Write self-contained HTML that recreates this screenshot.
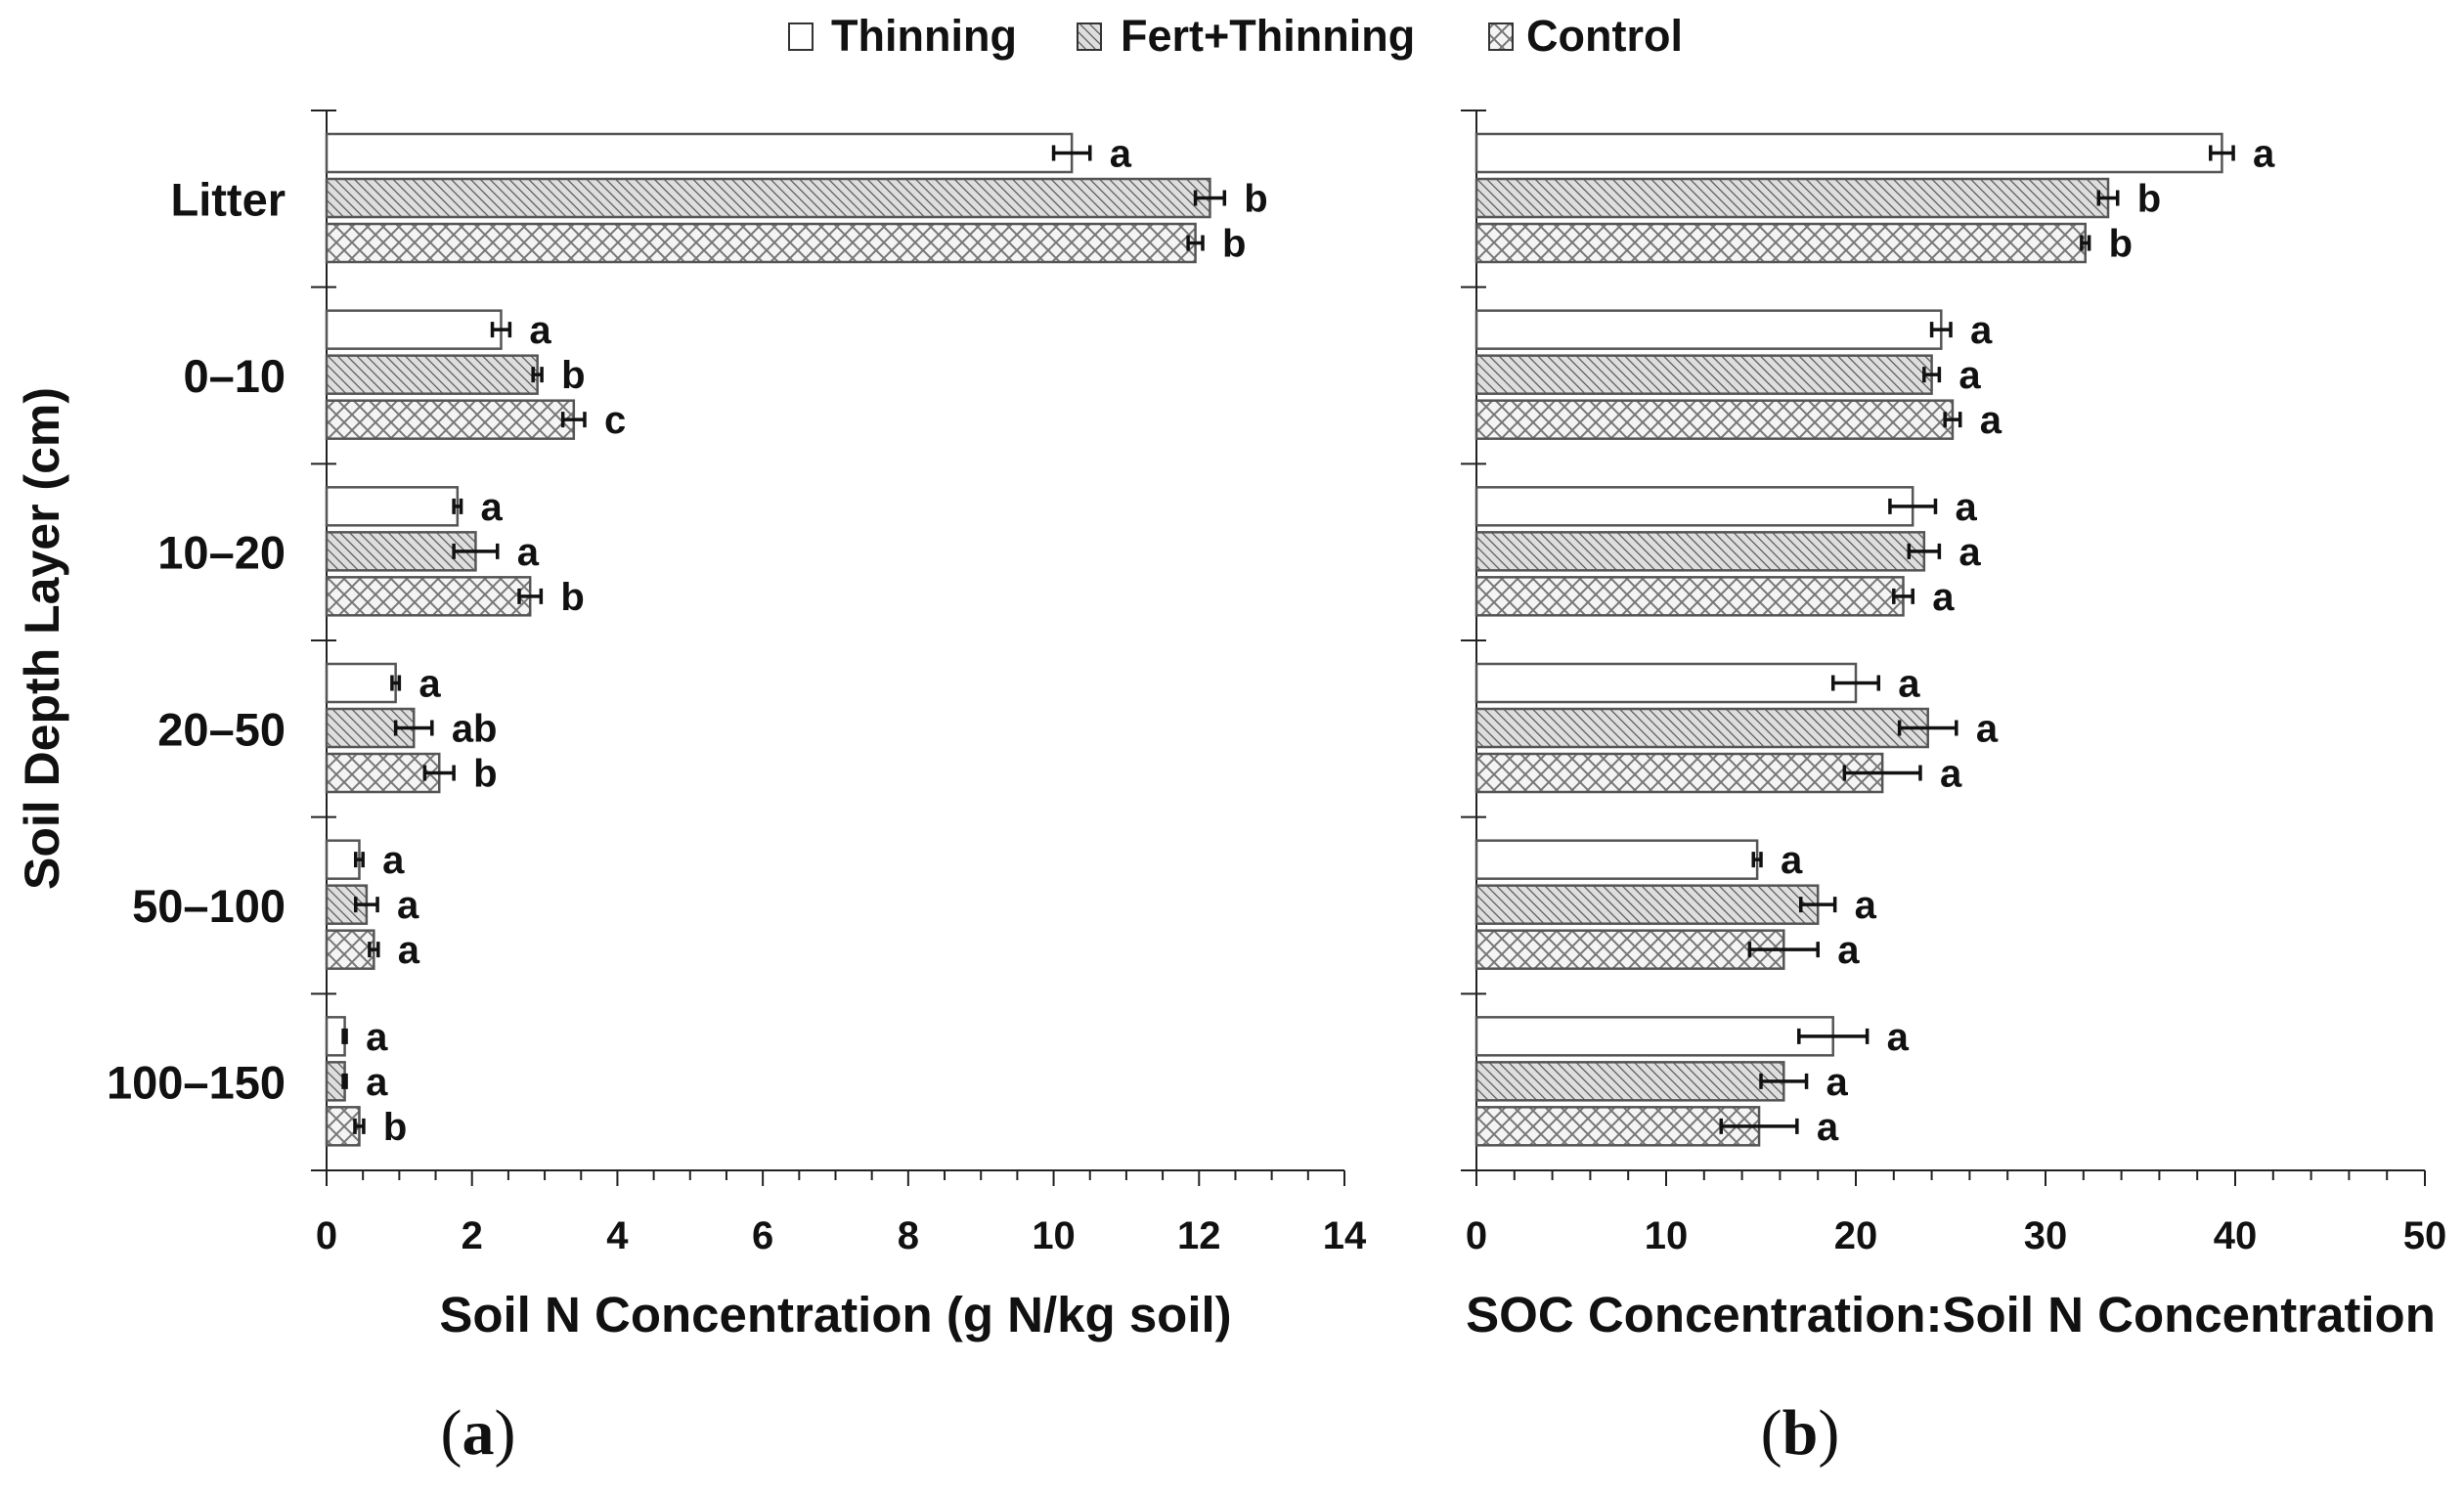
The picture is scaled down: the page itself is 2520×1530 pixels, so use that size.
<!DOCTYPE html>
<html><head><meta charset="utf-8"><style>
html,body{margin:0;padding:0;background:#fff;}
svg{display:block;font-family:"Liberation Sans",sans-serif;}
</style></head><body>
<svg id="chart" width="2520" height="1530" viewBox="0 0 2520 1530" xmlns="http://www.w3.org/2000/svg">
<defs>
<pattern id="diag" patternUnits="userSpaceOnUse" width="7" height="7" patternTransform="rotate(-45)">
<rect width="7" height="7" fill="#dedede"/><line x1="0" y1="0" x2="0" y2="7" stroke="#555" stroke-width="2.4"/></pattern>
<pattern id="cross" patternUnits="userSpaceOnUse" width="16" height="16">
<rect width="16" height="16" fill="#f4f4f4"/><path d="M0,0L16,16M16,0L0,16" stroke="#777" stroke-width="2"/></pattern>
</defs>
<g font-size="45" font-weight="bold" fill="#111">
<rect x="807" y="24" width="24" height="27" fill="#fff" stroke="#333" stroke-width="2"/>
<text x="850" y="52">Thinning</text>
<rect x="1102" y="24" width="24" height="27" fill="url(#diag)" stroke="#333" stroke-width="2"/>
<text x="1146" y="52">Fert+Thinning</text>
<rect x="1523" y="24" width="24" height="27" fill="url(#cross)" stroke="#333" stroke-width="2"/>
<text x="1561" y="52">Control</text>
</g>
<text transform="translate(60,653) rotate(-90)" text-anchor="middle" font-size="50" font-weight="bold" fill="#111">Soil Depth Layer (cm)</text>
<text x="489" y="1487" text-anchor="middle" font-family="Liberation Serif,serif" font-size="66" fill="#111">(<tspan font-weight="bold">a</tspan>)</text>
<text x="1841" y="1487" text-anchor="middle" font-family="Liberation Serif,serif" font-size="66" fill="#111">(<tspan font-weight="bold">b</tspan>)</text>
<g id="pa"></g><g id="pb"></g>
</svg>
<script>
const categories = ["Litter","0–10","10–20","20–50","50–100","100–150"];
const seriesNames = ["Thinning","Fert+Thinning","Control"];
const aThin = [10.25,2.4,1.8,0.95,0.45,0.25];
const aFert = [12.15,2.9,2.05,1.2,0.55,0.25];
const aCtrl = [11.95,3.4,2.8,1.55,0.65,0.45];
const aThinErr = [0.25,0.12,0.05,0.05,0.05,0.02];
const aFertErr = [0.2,0.06,0.3,0.25,0.15,0.02];
const aCtrlErr = [0.1,0.15,0.15,0.2,0.06,0.06];
const aThinLet = ["a","a","a","a","a","a"];
const aFertLet = ["b","b","a","ab","a","a"];
const aCtrlLet = ["b","c","b","b","a","b"];
const aTicks = [0,2,4,6,8,10,12,14];
const bThin = [39.3,24.5,23,20,14.8,18.8];
const bFert = [33.3,24,23.6,23.8,18,16.2];
const bCtrl = [32.1,25.1,22.5,21.4,16.2,14.9];
const bThinErr = [0.6,0.5,1.2,1.2,0.2,1.8];
const bFertErr = [0.5,0.4,0.8,1.5,0.9,1.2];
const bCtrlErr = [0.2,0.4,0.5,2.0,1.8,2.0];
const bThinLet = ["a","a","a","a","a","a"];
const bFertLet = ["b","a","a","a","a","a"];
const bCtrlLet = ["b","a","a","a","a","a"];
const bTicks = [0,10,20,30,40,50];

const NS="http://www.w3.org/2000/svg";
function mk(p,t,at){const e=document.createElementNS(NS,t);for(const k in at)e.setAttribute(k,at[k]);p.appendChild(e);return e;}
const yTop=113, yBot=1197, gH=(yBot-yTop)/categories.length;
const fills=["#fff","url(#diag)","url(#cross)"];
function panel(g,x0,x1,max,minorStep,ticks,vals,errs,lets,title,showCats,key){
  const sx=v=>x0+(x1-x0)*v/max;
  let e=mk(g,"line",{x1:x0,y1:yTop,x2:x0,y2:yBot,stroke:"#222","stroke-width":2});
  
  
  for(let i=0;i<=categories.length;i++){
    const y=yTop+i*gH;
    e=mk(g,"line",{x1:x0-16,y1:y,x2:x0+10,y2:y,stroke:"#222","stroke-width":2});
    
    
  }
  e=mk(g,"line",{x1:x0-16,y1:yBot,x2:x1,y2:yBot,stroke:"#222","stroke-width":2});
  
  
  for(let v=0;v<=max+1e-9;v+=minorStep){
    const major=ticks.some(t=>Math.abs(t-v)<1e-9);
    e=mk(g,"line",{x1:sx(v),y1:yBot,x2:sx(v),y2:yBot+(major?16:10),stroke:"#222","stroke-width":2});
    
    
  }
  ticks.forEach(t=>{
    e=mk(g,"text",{x:sx(t),y:yBot+80,"text-anchor":"middle","font-size":40,"font-weight":"bold",fill:"#111"});
    e.textContent=t;
    
    
  });
  e=mk(g,"text",{x:(x0+x1)/2,y:1362,"text-anchor":"middle","font-size":51,"font-weight":"bold",fill:"#111"});
  e.textContent=title;
  
  
  categories.forEach((c,i)=>{
    const gy=yTop+i*gH;
    if(showCats){
      e=mk(g,"text",{x:292,y:gy+gH/2+17,"text-anchor":"end","font-size":47,"font-weight":"bold",fill:"#111"});
      e.textContent=c;
      
      
    }
    for(let s=0;s<3;s++){
      const y=gy+24+s*46, h=39, v=vals[s][i], er=errs[s][i];
      e=mk(g,"rect",{x:x0,y:y,width:sx(v)-x0,height:h,fill:fills[s],stroke:"#555","stroke-width":2.5});
      
      
      const cy=y+h/2;
      e=mk(g,"path",{d:`M${sx(v-er)},${cy}H${sx(v+er)}M${sx(v-er)},${cy-8}V${cy+8}M${sx(v+er)},${cy-8}V${cy+8}`,stroke:"#111","stroke-width":3.5,fill:"none"});
      
      
      e=mk(g,"text",{x:sx(v+er)+20,y:cy+14,"font-size":40,"font-weight":"bold",fill:"#111"});
      e.textContent=lets[s][i];
      
      
    }
  });
}
panel(document.getElementById("pa"),334,1375,14,0.5,aTicks,[aThin,aFert,aCtrl],[aThinErr,aFertErr,aCtrlErr],[aThinLet,aFertLet,aCtrlLet],"Soil N Concentration (g N/kg soil)",true,"panel-a");
panel(document.getElementById("pb"),1510,2480,50,2,bTicks,[bThin,bFert,bCtrl],[bThinErr,bFertErr,bCtrlErr],[bThinLet,bFertLet,bCtrlLet],"SOC Concentration:Soil N Concentration",false,"panel-b");
</script>
</body></html>
